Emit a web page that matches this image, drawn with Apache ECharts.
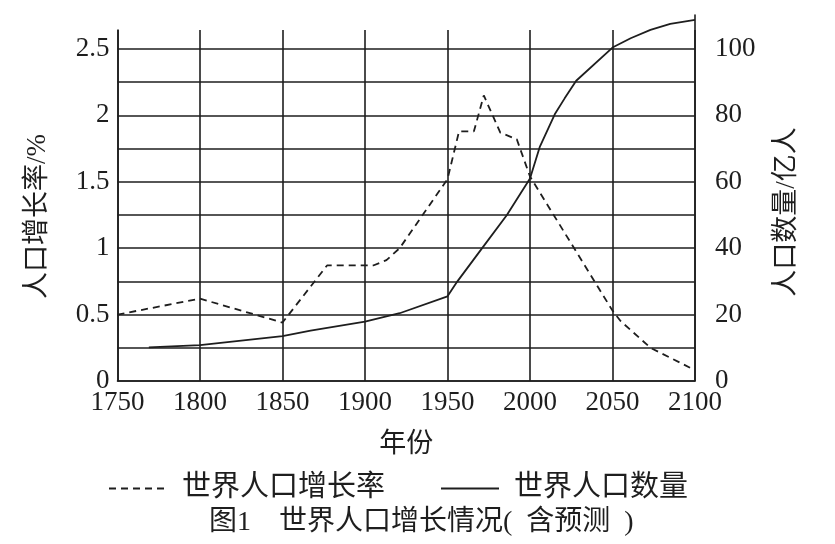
<!DOCTYPE html>
<html>
<head>
<meta charset="utf-8">
<script src="https://cdn.jsdelivr.net/npm/echarts@6/dist/echarts.min.js"></script>
<style>
  html, body { margin: 0; padding: 0; background: #fff; }
  #main { width: 835px; height: 544px; }
</style>
</head>
<body>
<div id="main"></div>
<script>
// 世界人口增长率（%），虚线
var rateYears  = [1750, 1800, 1850, 1877, 1905, 1913, 1921, 1950, 1957, 1966, 1972, 1982, 1992, 2000, 2050, 2055, 2073, 2097];
var rateValues = [0.5, 0.62, 0.44, 0.87, 0.87, 0.91, 1.0, 1.52, 1.88, 1.88, 2.15, 1.87, 1.82, 1.54, 0.53, 0.45, 0.25, 0.1];

// 世界人口数量（亿人），实线
var popYears  = [1769, 1800, 1850, 1867, 1900, 1921, 1950, 1956, 1971, 1986, 2000, 2006, 2015, 2021, 2028, 2050, 2061, 2073, 2085, 2100];
var popValues = [10.1, 10.8, 13.5, 15.2, 17.9, 20.4, 25.5, 30, 40, 50, 61, 70.6, 80.3, 85.1, 90.4, 100.4, 103.2, 105.7, 107.5, 108.7];

var ink = '#1e1e1e';
var font = '"Liberation Serif", "Noto Sans CJK SC", serif';

function pairs(xs, ys) {
  return xs.map(function (x, i) { return [x, ys[i]]; });
}

var chart = echarts.init(document.getElementById('main'));
chart.setOption({
  backgroundColor: '#fff',
  animation: false,
  textStyle: { fontFamily: font, color: ink },
  title: {
    text: '图1\u3000世界人口增长情况(  含预测  )',
    left: 204,
    top: 504,
    textStyle: { fontFamily: font, fontSize: 28, fontWeight: 'normal', color: ink }
  },
  legend: {
    left: 103,
    top: 469,
    itemWidth: 58,
    itemHeight: 14,
    itemGap: 55,
    itemStyle: { opacity: 0 },
    textStyle: { fontFamily: font, fontSize: 29, color: ink, padding: [0, 0, 0, 10] },
    data: ['世界人口增长率', '世界人口数量']
  },
  grid: [
    { left: 117.5, right: 140, top: 30, bottom: 163 },
    { left: 117.5, right: 140, top: 15, bottom: 163 }
  ],
  xAxis: [
    {
      type: 'value', gridIndex: 0,
      min: 1750, max: 2100, interval: 50,
      name: '年份', nameLocation: 'middle', nameGap: 50,
      nameTextStyle: { fontFamily: font, fontSize: 27, color: ink },
      axisLine: { lineStyle: { color: ink, width: 1.6 } },
      axisTick: { show: false },
      axisLabel: {
        color: ink, fontSize: 27, margin: 8, fontFamily: font,
        formatter: function (v) { return String(v); }
      },
      splitLine: { show: true, lineStyle: { color: ink, width: 1.6 } }
    },
    {
      type: 'value', gridIndex: 1,
      min: 1750, max: 2100, show: false
    }
  ],
  yAxis: [
    {
      type: 'value', gridIndex: 0, position: 'left',
      min: 0, max: 2.643, interval: 0.25,
      name: '人口增长率/%', nameLocation: 'middle', nameGap: 66, nameRotate: 90,
      nameTextStyle: { fontFamily: font, fontSize: 27, color: ink, padding: [0, 22, 0, 0] },
      axisLine: { show: true, lineStyle: { color: ink, width: 1.6 } },
      axisTick: { show: false },
      axisLabel: {
        color: ink, fontSize: 27, margin: 8, fontFamily: font,
        formatter: function (v) {
          var d = v * 2;
          return (Math.abs(d - Math.round(d)) < 1e-6 && v <= 2.5) ? String(+v.toFixed(2)) : '';
        }
      },
      splitLine: { show: true, showMaxLine: false, lineStyle: { color: ink, width: 1.6 } }
    },
    {
      type: 'value', gridIndex: 1, position: 'right',
      min: 0, max: 110.2, interval: 20,
      name: '人口数量/亿人', nameLocation: 'middle', nameGap: 78, nameRotate: 90,
      nameTextStyle: { fontFamily: font, fontSize: 27, color: ink, padding: [0, 28, 0, 0] },
      axisLine: { show: true, lineStyle: { color: ink, width: 1.6 } },
      axisTick: { show: false },
      axisLabel: {
        color: ink, fontSize: 27, margin: 20, fontFamily: font,
        formatter: function (v) { return (v % 20 === 0 && v <= 100) ? String(v) : ''; }
      },
      splitLine: { show: false }
    }
  ],
  series: [
    {
      name: '世界人口增长率',
      type: 'line',
      xAxisIndex: 0, yAxisIndex: 0,
      symbol: 'none',
      lineStyle: { color: ink, width: 1.8, type: [7, 5] },
      itemStyle: { color: ink },
      data: pairs(rateYears, rateValues)
    },
    {
      name: '世界人口数量',
      type: 'line',
      xAxisIndex: 1, yAxisIndex: 1,
      symbol: 'none',
      lineStyle: { color: ink, width: 1.8 },
      itemStyle: { color: ink },
      data: pairs(popYears, popValues)
    }
  ]
});
</script>
</body>
</html>
